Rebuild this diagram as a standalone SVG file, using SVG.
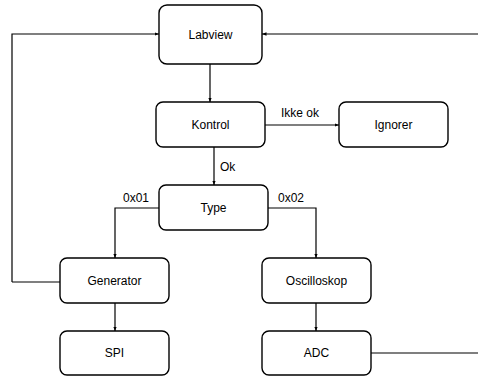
<svg xmlns="http://www.w3.org/2000/svg" width="478" height="376" viewBox="0 0 478 376">
<style>
.box{fill:#fff;stroke:#000;stroke-width:1.4}
.t{font-family:"Liberation Sans",Arial,sans-serif;font-size:12px;fill:#000;text-anchor:middle;dominant-baseline:central}
.lbl{font-family:"Liberation Sans",Arial,sans-serif;font-size:12px;fill:#000}
.c{fill:none;stroke:#000;stroke-width:1.2}
</style>
<defs>
<marker id="a" viewBox="0 0 10 10" refX="10" refY="5" markerWidth="4.5" markerHeight="4.5" orient="auto" markerUnits="userSpaceOnUse">
<path d="M0,1 L10,5 L0,9 z" fill="#000"/>
</marker>
</defs>
<g id="connectors">
<path class="c" d="M12,282 L12,34 L159,34" marker-end="url(#a)"/>
<path class="c" d="M60,282 L12,282"/>
<path class="c" d="M478,34 L262,34" marker-end="url(#a)"/>
<path class="c" d="M210,64 L210,102" marker-end="url(#a)"/>
<path class="c" d="M265,125 L339,125" marker-end="url(#a)"/>
<path class="c" d="M214,147 L214,185" marker-end="url(#a)"/>
<path class="c" d="M159,208 L115,208 L115,258" marker-end="url(#a)"/>
<path class="c" d="M268,208 L316,208 L316,258" marker-end="url(#a)"/>
<path class="c" d="M115,303 L115,331" marker-end="url(#a)"/>
<path class="c" d="M316,303 L316,331" marker-end="url(#a)"/>
<path class="c" d="M371,353 L478,353"/>
<text class="lbl" x="281" y="117">Ikke ok</text>
<text class="lbl" x="220" y="171">Ok</text>
<text class="lbl" x="123" y="202">0x01</text>
<text class="lbl" x="278" y="202">0x02</text>
</g>
<g id="labview"><rect class="box" x="159" y="5" width="103" height="59" rx="8"/><text class="t" x="210.5" y="34.5">Labview</text></g>
<g id="kontrol"><rect class="box" x="156" y="102" width="109" height="45" rx="7"/><text class="t" x="210.5" y="125">Kontrol</text></g>
<g id="ignorer"><rect class="box" x="339" y="102" width="109" height="45" rx="7"/><text class="t" x="393.5" y="125">Ignorer</text></g>
<g id="type"><rect class="box" x="159" y="185" width="109" height="45" rx="7"/><text class="t" x="213.5" y="208">Type</text></g>
<g id="generator"><rect class="box" x="60" y="258" width="109" height="45" rx="7"/><text class="t" x="114.5" y="281">Generator</text></g>
<g id="oscilloskop"><rect class="box" x="262" y="258" width="109" height="45" rx="7"/><text class="t" x="316.5" y="281">Oscilloskop</text></g>
<g id="spi"><rect class="box" x="60" y="331" width="109" height="44" rx="7"/><text class="t" x="114.5" y="353">SPI</text></g>
<g id="adc"><rect class="box" x="262" y="331" width="109" height="44" rx="7"/><text class="t" x="316.5" y="353">ADC</text></g>
</svg>
